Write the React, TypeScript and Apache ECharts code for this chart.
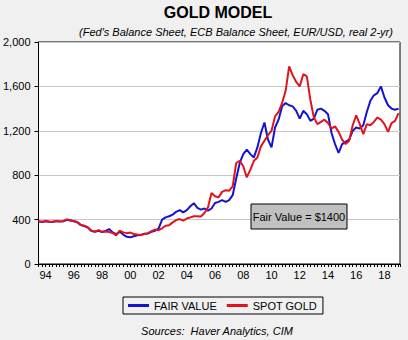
import React, { useEffect, useRef } from "react";
import * as echarts from "echarts";

const FONT = "'Liberation Sans', Arial, sans-serif";

// quarterly observations, 1994 Q1 .. 2019 Q3
const startYear = 1994;
const step = 0.25;

const fairValue = [
  382, 378, 385, 381,
  378, 386, 382, 384,
  398, 392, 385, 375,
  350, 342, 327, 298,
  290, 300, 288, 298,
  315, 285, 270, 290,
  265, 245, 240, 250,
  258, 262, 272, 275,
  290, 300, 318, 400,
  420, 430, 445, 470,
  485, 465, 485, 520,
  548, 505, 490, 500,
  480, 500, 550, 560,
  575, 560, 575, 620,
  770, 910, 990, 1030,
  990, 960, 1050, 1180,
  1275, 1120, 1050, 1230,
  1300, 1420, 1450, 1430,
  1420, 1380, 1310, 1380,
  1350, 1290, 1310, 1390,
  1400, 1380, 1350, 1180,
  1080, 1000, 1080, 1100,
  1120, 1200, 1230, 1220,
  1250, 1370, 1470, 1520,
  1540, 1600, 1500, 1430,
  1400, 1390, 1400,
];

const spotGold = [
  385, 380, 387, 383,
  380, 388, 384, 386,
  402, 395, 388, 378,
  352, 345, 330, 300,
  292, 305, 290, 293,
  288, 280, 258, 300,
  285, 278, 283, 270,
  265, 262, 270, 278,
  295, 310, 305, 322,
  345, 350, 375, 395,
  405, 390, 410, 420,
  430, 430, 428, 460,
  510, 640, 610, 600,
  650, 665, 660, 700,
  910, 930, 880, 780,
  850, 930, 960, 1060,
  1110, 1160, 1200, 1330,
  1370, 1450, 1560, 1780,
  1700, 1640, 1600, 1710,
  1690, 1480, 1320, 1260,
  1280, 1300, 1270, 1220,
  1240, 1190, 1120, 1080,
  1110, 1250, 1340, 1260,
  1170, 1260, 1250, 1280,
  1320, 1300, 1260, 1190,
  1270, 1290, 1360,
];

const dates = fairValue.map((_, i) => startYear + i * step);

const seriesNames = ["FAIR VALUE", "SPOT GOLD"];
const yTicks = [0, 400, 800, 1200, 1600, 2000];

export default function App() {
  const ref = useRef<HTMLDivElement>(null);

  useEffect(() => {
    document.body.style.margin = "0";
    const chart = echarts.init(ref.current!, null, { renderer: "svg" });
    chart.setOption({
      animation: false,
      backgroundColor: "#f0f0f0",
      grid: {
        left: 35,
        right: 8,
        top: 42,
        bottom: 76,
        show: true,
        backgroundColor: "#ffffff",
        borderColor: "#000000",
        borderWidth: 1,
      },
      legend: {
        data: seriesNames,
        left: 123,
        top: 297,
        orient: "horizontal",
        icon: "rect",
        itemWidth: 21,
        itemHeight: 3,
        itemGap: 10,
        padding: [3, 6, 3, 5],
        borderColor: "#000",
        borderWidth: 1,
        textStyle: { fontSize: 11, color: "#000", fontFamily: FONT },
      },
      xAxis: {
        type: "value",
        min: 1994,
        max: 2019.6,
        interval: 0.25,
        splitLine: { show: false },
        axisLine: { show: true, lineStyle: { color: "#000", width: 1 } },
        axisTick: { show: true, inside: false, length: 3, lineStyle: { color: "#000" } },
        axisLabel: {
          margin: 5,
          fontSize: 11,
          color: "#000",
          fontFamily: FONT,
          showMinLabel: true,
          showMaxLabel: true,
          formatter: (v: number) => {
            const frac = v - Math.floor(v);
            if (Math.abs(frac - 0.5) < 1e-6 && Math.floor(v) % 2 === 0) {
              return String(Math.floor(v) % 100).padStart(2, "0");
            }
            return "";
          },
        },
      },
      yAxis: {
        type: "value",
        min: yTicks[0],
        max: yTicks[yTicks.length - 1],
        interval: 400,
        splitLine: { show: true, lineStyle: { color: "#c8c8c8", width: 1 } },
        axisLine: { show: true, lineStyle: { color: "#000", width: 1 } },
        axisTick: { show: true, inside: false, length: 4, lineStyle: { color: "#000" } },
        axisLabel: {
          margin: 8,
          fontSize: 11,
          color: "#000",
          fontFamily: FONT,
          formatter: (v: number) => v.toLocaleString("en-US"),
        },
      },
      series: [
        {
          name: seriesNames[0],
          type: "line",
          showSymbol: false,
          symbol: "none",
          data: dates.map((d, i) => [d, fairValue[i]]),
          lineStyle: { color: "#1414cc", width: 2 },
          itemStyle: { color: "#1414cc" },
          z: 2,
        },
        {
          name: seriesNames[1],
          type: "line",
          showSymbol: false,
          symbol: "none",
          data: dates.map((d, i) => [d, spotGold[i]]),
          lineStyle: { color: "#e0141c", width: 2 },
          itemStyle: { color: "#e0141c" },
          z: 3,
        },
      ],
      graphic: [
        {
          type: "text",
          x: 218,
          y: 12,
          style: {
            text: "GOLD MODEL",
            font: `bold 16px ${FONT}`,
            fill: "#000",
            textAlign: "center",
            textVerticalAlign: "middle",
            align: "center",
            verticalAlign: "middle",
          },
        },
        {
          type: "text",
          x: 236,
          y: 31.5,
          style: {
            text: "(Fed's Balance Sheet, ECB Balance Sheet, EUR/USD, real 2-yr)",
            font: `italic 11px ${FONT}`,
            fill: "#000",
            textAlign: "center",
            textVerticalAlign: "middle",
            align: "center",
            verticalAlign: "middle",
          },
        },
        {
          type: "text",
          x: 217,
          y: 331,
          style: {
            text: "Sources:  Haver Analytics, CIM",
            font: `italic 11px ${FONT}`,
            fill: "#000",
            textAlign: "center",
            textVerticalAlign: "middle",
            align: "center",
            verticalAlign: "middle",
          },
        },
        {
          type: "rect",
          x: 251,
          y: 204,
          shape: { x: 0, y: 0, width: 96, height: 25 },
          style: { fill: "#c0c0c0", stroke: "#000", lineWidth: 1 },
          z: 10,
        },
        {
          type: "text",
          x: 299,
          y: 216.5,
          style: {
            text: "Fair Value = $1400",
            font: `11px ${FONT}`,
            fill: "#000",
            textAlign: "center",
            textVerticalAlign: "middle",
            align: "center",
            verticalAlign: "middle",
          },
          z: 11,
        },
      ],
    });
    return () => chart.dispose();
  }, []);

  return <div ref={ref} style={{ width: 408, height: 340 }} />;
}
